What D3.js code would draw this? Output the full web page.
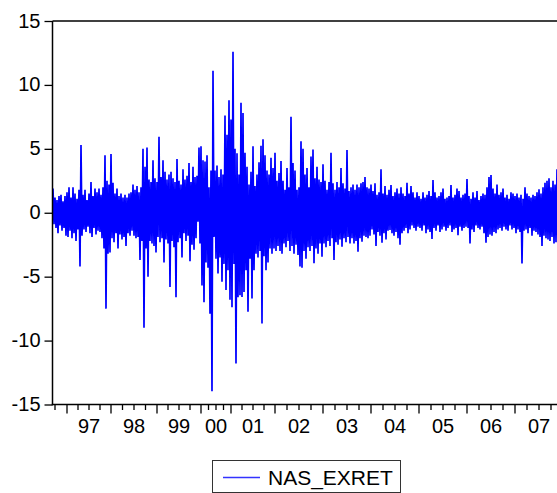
<!DOCTYPE html>
<html>
<head>
<meta charset="utf-8">
<script src="https://cdn.jsdelivr.net/npm/d3@7"></script>
<style>
  body { margin: 0; background: #fff; }
  svg { display: block; }
  text { font-family: "Liberation Sans", Arial, sans-serif; fill: #000; }
</style>
</head>
<body>
<svg id="chart" width="557" height="493"></svg>
<script>
// NAS_EXRET: daily NASDAQ excess returns. Each year is kept as the
// high / low envelope of consecutive two-pixel slices of the series.
const hi96 = [1.9, 1.2, 1.0, 1.3, 1.4, 0.9, 1.3];
const lo96 = [-0.9, -1.2, -1.6, -1.0, -1.4, -1.2, -1.8];

const hi97 = [1.6, 2.0, 1.2, 2.0, 1.5, 1.1, 1.8, 5.3, 1.4, 1.8, 1.0, 1.5, 2.4, 1.3, 1.9, 1.6, 1.9, 1.4, 2.0, 4.5, 2.5, 2.2];
const lo97 = [-1.9, -1.4, -2.0, -1.6, -2.2, -1.3, -4.2, -1.8, -1.3, -1.5, -1.1, -1.6, -1.9, -1.2, -1.7, -1.4, -1.5, -2.0, -2.8, -7.5, -3.2, -3.1];

const hi98 = [4.6, 2.35, 1.5, 1.9, 1.3, 1.5, 1.2, 1.4, 1.2, 1.5, 1.6, 2.2, 1.8, 2.1, 1.6, 2.0, 5.0, 3.6, 5.1, 2.6, 2.4, 4.1, 2.7];
const lo98 = [-2.0, -2.3, -1.6, -2.8, -1.7, -2.1, -1.9, -2.6, -1.6, -1.8, -1.4, -1.8, -2.0, -1.9, -3.7, -2.2, -9.0, -2.8, -5.0, -2.2, -2.4, -2.6, -3.1];

const hi99 = [2.4, 5.95, 2.8, 4.1, 3.2, 2.6, 3.0, 3.2, 2.7, 2.4, 4.2, 2.5, 2.2, 3.4, 2.6, 2.9, 3.9, 2.4, 3.6, 2.8, 2.9, 5.1];
const lo99 = [-1.9, -2.3, -2.0, -3.9, -2.1, -2.4, -5.8, -2.2, -2.7, -6.6, -2.3, -2.0, -3.5, -1.6, -2.2, -1.8, -3.8, -2.5, -2.9, -2.0, -0.7, -2.4];

const hi00 = [5.2, 4.1, 4.0, 4.5, 2.0, 3.3, 11.1, 3.3, 3.7, 2.8, 3.4, 3.0, 7.6, 6.1, 8.8];
const lo00 = [-5.7, -7.0, -3.9, -4.3, -7.9, -13.96, -1.9, -3.6, -4.75, -3.5, -5.4, -4.0, -6.05, -4.5, -6.8];

const hi01 = [7.3, 12.6, 5.0, 4.65, 3.0, 8.6, 7.8, 4.7, 3.6, 2.2, 3.2, 5.2, 2.1, 3.0, 3.95, 5.25, 5.75, 4.5, 3.3, 3.0, 4.3, 3.5];
const lo01 = [-7.4, -4.0, -11.8, -6.6, -6.45, -6.6, -6.2, -4.5, -7.75, -3.6, -6.7, -4.5, -3.2, -3.5, -3.0, -8.66, -3.4, -4.5, -3.9, -2.8, -3.2, -2.8];

const hi02 = [4.7, 2.5, 3.1, 4.05, 2.5, 1.8, 3.5, 2.0, 7.5, 3.9, 3.3, 1.8, 2.0, 5.6, 5.0, 3.0, 3.5, 2.0, 4.4, 4.95, 2.7, 3.6, 2.6, 2.4];
const lo02 = [-3.0, -2.6, -3.0, -3.2, -2.4, -2.7, -2.2, -3.0, -2.6, -3.2, -2.5, -3.3, -4.2, -4.3, -3.0, -3.6, -2.7, -3.0, -2.6, -3.95, -2.8, -3.2, -2.4, -3.45];

const hi03 = [3.8, 2.5, 1.8, 2.4, 4.7, 2.3, 1.8, 2.4, 2.0, 3.5, 2.3, 1.9, 4.9, 1.7, 2.0, 2.2, 1.8, 2.2, 2.0, 2.3, 2.4, 2.8, 2.0, 1.9];
const lo03 = [-2.4, -2.7, -2.2, -2.6, -2.0, -3.7, -2.3, -2.5, -2.1, -2.65, -2.0, -2.3, -1.9, -2.4, -2.0, -2.4, -2.2, -3.05, -2.0, -2.27, -1.8, -1.9, -2.0, -1.8];

const hi04 = [2.2, 1.7, 2.3, 1.4, 1.6, 3.4, 1.5, 2.1, 1.4, 1.8, 2.17, 1.3, 1.6, 1.9, 1.5, 2.0, 1.5, 1.3, 2.35, 1.5, 2.1, 1.6, 1.2, 1.6];
const lo04 = [-1.3, -1.7, -2.6, -1.5, -1.8, -2.35, -1.6, -2.1, -1.4, -1.35, -1.6, -1.8, -1.5, -2.0, -2.5, -1.6, -1.4, -1.2, -1.6, -1.3, -1.0, -1.2, -1.4, -1.1];

const hi05 = [1.3, 1.1, 1.6, 1.2, 1.4, 1.7, 1.3, 2.56, 1.6, 1.2, 1.3, 1.6, 1.9, 1.1, 1.2, 1.3, 2.17, 1.2, 1.4, 1.9, 1.7, 1.2, 1.4, 1.5];
const lo05 = [-1.2, -1.4, -1.0, -1.6, -1.3, -1.5, -2.06, -1.2, -1.4, -1.0, -1.5, -1.3, -1.1, -1.4, -1.2, -1.0, -1.5, -1.3, -1.2, -1.75, -1.1, -1.4, -1.2, -1.1];

const hi06 = [2.64, 1.3, 1.1, 1.6, 1.2, 1.7, 1.0, 1.3, 1.5, 1.4, 2.0, 2.8, 2.95, 1.9, 1.5, 2.2, 1.4, 1.6, 1.9, 1.2, 1.4, 1.1, 1.6, 1.5];
const lo06 = [-1.2, -2.4, -1.3, -1.5, -1.0, -1.2, -1.3, -1.1, -1.6, -2.35, -1.9, -1.7, -1.8, -1.5, -1.6, -1.3, -1.2, -1.4, -1.1, -1.3, -1.4, -1.0, -1.3, -1.2];

const hi07 = [1.3, 1.5, 1.2, 1.4, 1.1, 2.0, 1.5, 1.3, 1.2, 1.4, 1.3, 1.6, 1.83, 1.5, 2.0, 2.35, 2.5, 2.7, 2.0, 2.5, 2.2, 3.4, 2.1, 2.3];
const lo07 = [-1.6, -1.3, -1.5, -3.96, -1.4, -1.3, -1.6, -1.2, -1.8, -1.4, -1.5, -1.7, -1.9, -2.6, -1.8, -2.0, -2.1, -2.2, -1.9, -2.4, -2.3, -2.8, -2.0, -2.2];

const yearLabels = ["96", "97", "98", "99", "00", "01", "02", "03", "04", "05", "06", "07"];
const yTickValues = [-15, -10, -5, 0, 5, 10, 15];
const seriesName = "NAS_EXRET";

const yearBlocks = [
  [hi96, lo96], [hi97, lo97], [hi98, lo98], [hi99, lo99], [hi00, lo00], [hi01, lo01],
  [hi02, lo02], [hi03, lo03], [hi04, lo04], [hi05, lo05], [hi06, lo06], [hi07, lo07]
];

// Flatten into one zig-zag path: high then low for every slice.
const points = [];
const yearStart = [];
let idx = 0;
yearBlocks.forEach(([hi, lo]) => {
  yearStart.push(idx);
  hi.forEach((h, j) => {
    points.push({ i: idx, v: h });
    points.push({ i: idx + 0.5, v: lo[j] });
    idx += 1;
  });
});
const total = idx;
yearStart.push(total);

const svg = d3.select("#chart");
const plot = { left: 52.5, right: 563, top: 21, bottom: 404.5 };

const x = d3.scaleLinear().domain([0, total]).range([53, 563]);
const y = d3.scaleLinear().domain([-15, 15]).range([plot.bottom, plot.top]);

// series
const line = d3.line().x(d => x(d.i)).y(d => y(d.v));
svg.append("path")
  .datum(points)
  .attr("fill", "none")
  .attr("stroke", "#0000ff")
  .attr("stroke-width", 1.7)
  .attr("stroke-linejoin", "bevel")
  .attr("d", line);

// frame: top edge, left axis, bottom axis
const frame = svg.append("g").attr("stroke", "#000").attr("stroke-width", 1.5).attr("fill", "none");
frame.append("line").attr("x1", plot.left).attr("x2", 600).attr("y1", plot.top).attr("y2", plot.top);

// left axis
const yAxis = d3.axisLeft(y)
  .tickValues(yTickValues)
  .tickSize(8)
  .tickPadding(4)
  .tickFormat(d => String(d));
const gy = svg.append("g").attr("transform", `translate(${plot.left},0)`).call(yAxis);
gy.select(".domain").attr("stroke-width", 1.5).attr("d", `M0,${plot.top}V${plot.bottom + 0.75}`);
gy.selectAll(".tick line").attr("stroke-width", 1.3);
gy.selectAll(".tick text")
  .attr("font-size", 20)
  .attr("font-family", "\"Liberation Sans\", Arial, sans-serif")
  .attr("fill", "#000")
  .attr("dy", "0.3em");

// bottom axis: quarter ticks, longer ticks at year starts, labels centred in each year
const quarterLen = 24 / 4;
const quarterTicks = [];
for (let k = 0; k < yearBlocks.length; k++) {
  const s = yearStart[k], e = yearStart[k + 1];
  if (k === 0) {
    for (let q = e - quarterLen; q > s; q -= quarterLen) quarterTicks.push(q);
  } else {
    for (let q = 1; q < 4; q++) quarterTicks.push(s + (e - s) * q / 4);
  }
}
const majorTicks = yearStart.slice(1, yearStart.length - 1);

const gx = svg.append("g").attr("transform", `translate(0,${plot.bottom})`);
gx.append("line").attr("x1", plot.left - 0.75).attr("x2", 600).attr("y1", 0).attr("y2", 0)
  .attr("stroke", "#000").attr("stroke-width", 1.5);
gx.selectAll("line.minor").data(quarterTicks).join("line").attr("class", "minor")
  .attr("x1", d => x(d)).attr("x2", d => x(d)).attr("y1", 0).attr("y2", 5.5)
  .attr("stroke", "#000").attr("stroke-width", 1.3);
gx.selectAll("line.major").data(majorTicks).join("line").attr("class", "major")
  .attr("x1", d => x(d)).attr("x2", d => x(d)).attr("y1", 0).attr("y2", 9)
  .attr("stroke", "#000").attr("stroke-width", 1.3);

const labelYears = yearLabels.slice(1).map((lab, k) => ({
  lab, mid: (yearStart[k + 1] + yearStart[k + 2]) / 2
}));
gx.selectAll("text.year").data(labelYears).join("text").attr("class", "year")
  .attr("x", d => x(d.mid)).attr("y", 28.5)
  .attr("text-anchor", "middle").attr("font-size", 20)
  .text(d => d.lab);

// legend
const lg = svg.append("g");
lg.append("rect").attr("x", 212.5).attr("y", 460.5).attr("width", 188).attr("height", 32)
  .attr("fill", "#fff").attr("stroke", "#333").attr("stroke-width", 1);
lg.append("line").attr("x1", 223).attr("x2", 260).attr("y1", 477.5).attr("y2", 477.5)
  .attr("stroke", "#3333ff").attr("stroke-width", 1.5);
lg.append("text").attr("x", 268).attr("y", 485).attr("font-size", 21).text(seriesName);
</script>
</body>
</html>
